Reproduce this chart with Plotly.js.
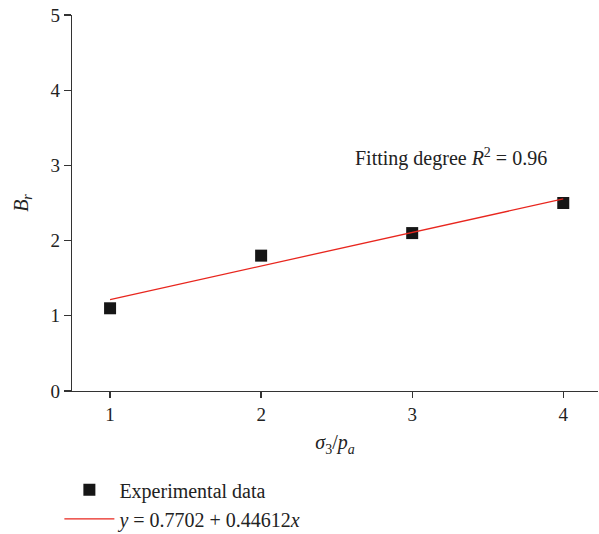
<!DOCTYPE html>
<html>
<head>
<meta charset="utf-8">
<script src="https://cdn.plot.ly/plotly-3.0.1.min.js"></script>
<style>
  html, body { margin: 0; padding: 0; background: #fff; }
  #chart { width: 599px; height: 534px; }
</style>
</head>
<body>
<div id="chart"></div>
<script>
// Measured deviator ratio B_r against normalised confining pressure
const confiningRatio = [1, 2, 3, 4];
const brValues = [1.1, 1.8, 2.1, 2.5];

// Linear fit: B_r = a + b * (sigma3 / pa)
const fitIntercept = 0.7702;
const fitSlope = 0.44612;
const fitX = [1, 4];
const fitY = fitX.map(x => fitIntercept + fitSlope * x);

const xTicks = [1, 2, 3, 4];
const yTicks = [0, 1, 2, 3, 4, 5];

const serif = '"Liberation Serif", "DejaVu Serif", serif';

const traces = [
  {
    x: confiningRatio,
    y: brValues,
    type: 'scatter',
    mode: 'markers',
    name: 'Experimental data',
    marker: { symbol: 'square', size: 12, color: '#161616' }
  },
  {
    x: fitX,
    y: fitY,
    type: 'scatter',
    mode: 'lines',
    name: '<i>y</i> = 0.7702 + 0.44612<i>x</i>',
    line: { color: '#e8261e', width: 1.3 }
  }
];

const layout = {
  width: 599,
  height: 534,
  margin: { l: 72, r: 1, t: 15, b: 143, autoexpand: false },
  paper_bgcolor: '#fff',
  plot_bgcolor: '#fff',
  font: { family: serif, size: 20, color: '#222' },
  showlegend: true,
  legend: {
    x: -0.024,
    y: -0.211,
    xanchor: 'left',
    yanchor: 'top',
    orientation: 'v',
    itemwidth: 50,
    font: { family: serif, size: 20, color: '#222' },
    bgcolor: 'rgba(0,0,0,0)',
    tracegroupgap: 0
  },
  xaxis: {
    range: [0.748, 4.23],
    tickvals: xTicks,
    ticktext: xTicks.map(String),
    ticks: 'outside',
    ticklen: 6,
    tickwidth: 1.3,
    tickcolor: '#333',
    showline: true,
    linecolor: '#333',
    linewidth: 1.3,
    showgrid: false,
    zeroline: false,
    tickfont: { family: serif, size: 19, color: '#222' },
    title: {
      text: '<i>σ</i><sub>3</sub>/<i>p<sub>a</sub></i>',
      font: { family: serif, size: 20, color: '#222' },
      standoff: 11
    }
  },
  yaxis: {
    range: [0, 5],
    tickvals: yTicks,
    ticktext: yTicks.map(String),
    ticks: 'outside',
    ticklen: 7,
    tickwidth: 1.3,
    tickcolor: '#333',
    showline: true,
    linecolor: '#333',
    linewidth: 1.3,
    showgrid: false,
    zeroline: false,
    tickfont: { family: serif, size: 19, color: '#222' },
    title: {
      text: '<i>B<sub>r</sub></i>',
      font: { family: serif, size: 20, color: '#222' },
      standoff: 16
    }
  },
  annotations: [
    {
      x: 3.26,
      y: 3.1,
      xref: 'x',
      yref: 'y',
      text: 'Fitting degree <i>R</i><sup>2</sup> = 0.96',
      showarrow: false,
      font: { family: serif, size: 20, color: '#222' }
    }
  ]
};

Plotly.newPlot('chart', traces, layout, { displayModeBar: false, staticPlot: true });
</script>
</body>
</html>
